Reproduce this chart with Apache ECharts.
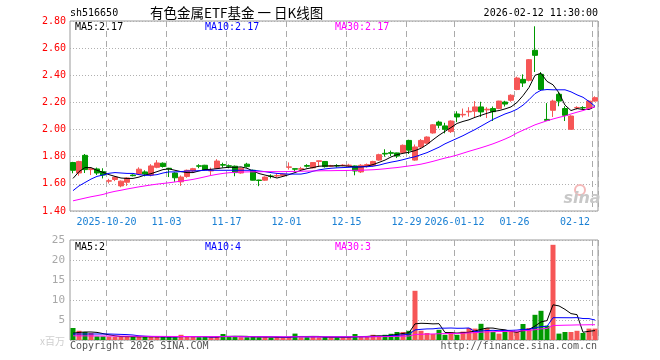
<!DOCTYPE html>
<html>
<head>
<meta charset="utf-8">
<script src="https://cdn.jsdelivr.net/npm/echarts@6/dist/echarts.min.js"></script>
<style>html,body{margin:0;padding:0;background:#fff;}#c{width:660px;height:360px;}</style>
</head>
<body>
<div id="c"></div>
<script>
const dates = [
 '2025-10-10','2025-10-13','2025-10-14','2025-10-15','2025-10-16','2025-10-17','2025-10-20','2025-10-21','2025-10-22','2025-10-23',
 '2025-10-24','2025-10-27','2025-10-28','2025-10-29','2025-10-30','2025-10-31','2025-11-03','2025-11-04','2025-11-05','2025-11-06',
 '2025-11-07','2025-11-10','2025-11-11','2025-11-12','2025-11-13','2025-11-14','2025-11-17','2025-11-18','2025-11-19','2025-11-20',
 '2025-11-21','2025-11-24','2025-11-25','2025-11-26','2025-11-27','2025-11-28','2025-12-01','2025-12-02','2025-12-03','2025-12-04',
 '2025-12-05','2025-12-08','2025-12-09','2025-12-10','2025-12-11','2025-12-12','2025-12-15','2025-12-16','2025-12-17','2025-12-18',
 '2025-12-19','2025-12-22','2025-12-23','2025-12-24','2025-12-25','2025-12-26','2025-12-29','2025-12-30','2025-12-31','2026-01-05',
 '2026-01-06','2026-01-07','2026-01-08','2026-01-09','2026-01-12','2026-01-13','2026-01-14','2026-01-15','2026-01-16','2026-01-19',
 '2026-01-20','2026-01-21','2026-01-22','2026-01-23','2026-01-26','2026-01-27','2026-01-28','2026-01-29','2026-01-30','2026-02-02',
 '2026-02-03','2026-02-04','2026-02-05','2026-02-06','2026-02-09','2026-02-10','2026-02-11','2026-02-12'
];
const opens = [
 1.757,1.68,1.81,1.705,1.71,1.69,1.62,1.632,1.585,1.612,
 1.665,1.672,1.688,1.665,1.722,1.752,1.715,1.68,1.615,1.655,
 1.695,1.733,1.737,1.695,1.715,1.742,1.733,1.73,1.68,1.745,
 1.70,1.628,1.627,1.658,1.658,1.66,1.722,1.712,1.708,1.735,
 1.718,1.765,1.765,1.73,1.735,1.735,1.733,1.732,1.688,1.728,
 1.735,1.775,1.825,1.83,1.828,1.83,1.92,1.775,1.872,1.90,
 1.975,2.055,2.027,1.985,2.115,2.108,2.13,2.135,2.167,2.145,
 2.155,2.155,2.203,2.216,2.295,2.37,2.363,2.584,2.407,2.075,
 2.142,2.26,2.155,2.002,2.16,2.162,2.155,2.21
];
const closes = [
 1.70,1.765,1.705,1.712,1.68,1.665,1.623,1.65,1.62,1.643,
 1.66,1.708,1.672,1.732,1.754,1.728,1.71,1.645,1.65,1.70,
 1.712,1.73,1.703,1.70,1.768,1.738,1.73,1.683,1.715,1.727,
 1.627,1.625,1.65,1.655,1.662,1.672,1.725,1.708,1.712,1.73,
 1.757,1.77,1.727,1.733,1.732,1.738,1.738,1.695,1.737,1.742,
 1.765,1.815,1.82,1.825,1.805,1.884,1.848,1.872,1.92,1.945,
 2.035,2.032,2.002,2.063,2.093,2.112,2.135,2.167,2.13,2.15,
 2.132,2.21,2.188,2.253,2.38,2.343,2.515,2.547,2.295,2.068,
 2.21,2.21,2.105,2.10,2.163,2.16,2.21,2.235
];
const lows = [
 1.678,1.66,1.68,1.665,1.665,1.64,1.603,1.62,1.575,1.585,
 1.655,1.665,1.655,1.655,1.715,1.72,1.65,1.615,1.585,1.645,
 1.685,1.715,1.70,1.665,1.71,1.72,1.715,1.656,1.675,1.72,
 1.625,1.583,1.622,1.64,1.648,1.655,1.705,1.69,1.70,1.72,
 1.715,1.725,1.72,1.725,1.72,1.73,1.725,1.663,1.68,1.72,
 1.728,1.77,1.80,1.805,1.79,1.825,1.82,1.77,1.865,1.895,
 1.97,2.01,1.972,1.975,2.055,2.09,2.095,2.093,2.093,2.085,
 2.063,2.15,2.17,2.205,2.29,2.314,2.355,2.424,2.284,2.065,
 2.093,2.172,2.063,2.0,2.148,2.15,2.15,2.205
];
const highs = [
 1.762,1.77,1.82,1.715,1.72,1.715,1.637,1.655,1.625,1.648,
 1.67,1.722,1.70,1.745,1.775,1.758,1.718,1.685,1.662,1.705,
 1.718,1.745,1.74,1.72,1.782,1.756,1.743,1.735,1.72,1.755,
 1.705,1.63,1.655,1.67,1.675,1.675,1.758,1.712,1.725,1.745,
 1.76,1.772,1.768,1.74,1.745,1.745,1.748,1.735,1.745,1.75,
 1.77,1.822,1.855,1.845,1.83,1.89,1.925,1.89,1.93,1.95,
 2.04,2.065,2.05,2.068,2.135,2.155,2.165,2.21,2.205,2.165,
 2.17,2.212,2.212,2.26,2.39,2.407,2.52,2.761,2.424,2.195,
 2.22,2.277,2.172,2.105,2.172,2.172,2.215,2.245
];
const ma5 = [
 1.64,1.69,1.72,1.72,1.70,1.685,1.668,1.655,1.643,1.64,
 1.64,1.65,1.665,1.675,1.69,1.705,1.71,1.70,1.69,1.683,
 1.683,1.695,1.705,1.707,1.712,1.718,1.722,1.722,1.725,1.715,
 1.695,1.676,1.665,1.655,1.643,1.655,1.668,1.683,1.70,1.712,
 1.72,1.73,1.732,1.732,1.733,1.733,1.73,1.724,1.725,1.73,
 1.742,1.758,1.775,1.798,1.815,1.825,1.833,1.845,1.862,1.89,
 1.925,1.958,1.987,2.015,2.045,2.06,2.072,2.09,2.105,2.12,
 2.133,2.14,2.152,2.167,2.20,2.25,2.31,2.40,2.415,2.355,
 2.33,2.27,2.18,2.14,2.155,2.148,2.148,2.17
];
const ma10 = [
 1.55,1.585,1.61,1.635,1.655,1.665,1.678,1.683,1.68,1.677,
 1.677,1.668,1.663,1.663,1.668,1.68,1.688,1.688,1.69,1.695,
 1.695,1.697,1.70,1.70,1.70,1.70,1.70,1.70,1.70,1.70,
 1.70,1.695,1.69,1.683,1.677,1.674,1.672,1.672,1.672,1.68,
 1.693,1.703,1.71,1.715,1.718,1.72,1.722,1.724,1.725,1.726,
 1.73,1.738,1.75,1.76,1.768,1.778,1.79,1.80,1.815,1.83,
 1.85,1.87,1.895,1.915,1.935,1.955,1.978,2.00,2.025,2.05,
 2.075,2.095,2.115,2.13,2.15,2.18,2.22,2.265,2.29,2.295,
 2.293,2.293,2.293,2.278,2.256,2.238,2.207,2.172
];
const ma30 = [
 1.475,1.485,1.495,1.505,1.513,1.522,1.535,1.545,1.553,1.562,
 1.57,1.578,1.585,1.592,1.598,1.603,1.608,1.614,1.62,1.626,
 1.633,1.642,1.652,1.662,1.67,1.677,1.682,1.685,1.687,1.688,
 1.689,1.689,1.69,1.69,1.69,1.69,1.691,1.692,1.693,1.694,
 1.695,1.696,1.697,1.697,1.698,1.698,1.699,1.70,1.70,1.702,
 1.704,1.707,1.711,1.716,1.72,1.726,1.732,1.738,1.745,1.755,
 1.766,1.778,1.79,1.80,1.812,1.826,1.84,1.853,1.866,1.88,
 1.895,1.912,1.93,1.95,1.975,1.995,2.015,2.035,2.05,2.065,
 2.078,2.09,2.10,2.115,2.128,2.14,2.155,2.168
];
const volumes = [
 3.0,2.3,2.0,1.75,0.9,0.9,0.85,0.8,0.85,0.8,
 0.8,0.8,0.75,0.85,0.8,0.75,0.8,0.7,1.3,0.8,
 0.75,0.7,0.75,0.7,0.8,1.5,0.75,0.9,0.7,0.7,
 0.9,0.7,0.7,0.6,0.7,0.65,0.75,1.6,0.7,0.7,
 0.75,0.7,0.75,0.7,0.65,0.7,0.7,1.5,0.8,0.75,
 1.3,0.9,1.3,1.55,2.0,2.0,2.3,12.3,2.3,1.75,
 1.5,2.55,1.3,2.0,1.3,2.1,3.0,2.85,4.05,3.0,
 2.0,1.6,2.1,2.1,2.0,4.0,3.0,6.3,7.3,3.6,
 23.8,1.6,2.0,2.0,2.3,1.75,2.85,2.85
];
const vma5 = [
 1.7,1.9,2.0,2.0,1.9,1.6,1.3,1.05,0.86,0.85,
 0.82,0.81,0.8,0.8,0.8,0.79,0.79,0.77,0.87,0.87,
 0.86,0.85,0.86,0.74,0.74,0.89,0.9,0.93,0.93,0.91,
 0.79,0.78,0.74,0.72,0.68,0.67,0.68,0.86,0.88,0.88,
 0.9,0.89,0.72,0.72,0.71,0.7,0.7,0.85,0.87,0.89,
 1.01,1.05,1.01,1.16,1.41,1.63,1.83,4.03,4.18,4.13,
 4.03,4.08,1.88,1.82,1.73,1.85,1.94,2.25,2.66,3.0,
 2.98,2.7,2.55,2.16,1.96,2.36,2.64,3.48,4.52,4.84,
 8.8,8.52,7.66,6.6,6.34,1.93,2.18,2.35
];
const vma10 = [
 1.5,1.5,1.5,1.5,1.5,1.5,1.5,1.45,1.4,1.35,
 1.25,1.05,0.95,0.88,0.83,0.82,0.81,0.79,0.84,0.84,
 0.83,0.82,0.83,0.75,0.81,0.88,0.88,0.89,0.84,0.82,
 0.84,0.84,0.83,0.82,0.8,0.73,0.73,0.8,0.8,0.78,
 0.78,0.78,0.79,0.79,0.78,0.78,0.78,0.79,0.8,0.8,
 0.86,0.88,0.93,1.03,1.15,1.28,1.44,2.52,2.67,2.77,
 2.79,2.96,2.96,3.0,2.93,2.94,3.01,2.07,2.24,2.37,
 2.42,2.32,2.4,2.41,2.48,2.67,2.67,3.02,3.34,3.4,
 5.58,5.58,5.57,5.56,5.59,5.37,5.35,5.0
];
const vma30 = [
 1.05,1.04,1.03,1.02,1.01,1.0,0.99,0.98,0.97,0.96,
 0.95,0.94,0.93,0.92,0.91,0.9,0.89,0.88,0.87,0.86,
 0.85,0.85,0.84,0.84,0.83,0.84,0.84,0.83,0.82,0.82,
 0.82,0.81,0.81,0.8,0.8,0.8,0.8,0.8,0.8,0.8,
 0.8,0.8,0.8,0.8,0.8,0.8,0.8,0.81,0.81,0.81,
 0.82,0.83,0.85,0.87,0.91,0.95,1.0,1.39,1.44,1.48,
 1.51,1.57,1.59,1.63,1.65,1.7,1.77,1.84,1.95,2.03,
 2.07,2.1,2.14,2.18,2.22,2.32,2.4,2.58,2.79,2.88,
 3.63,3.66,3.7,3.73,3.77,3.78,3.81,3.82
];
const tickIdx = [6,16,26,36,46,56,64,74,87];
const tickText = ['2025-10-20','11-03','11-17','12-01','12-15','12-29','2026-01-12','01-26','02-12'];
const priceMin = 1.4, priceMax = 2.8, priceStep = 0.2;
const volMin = 0, volMax = 25, volStep = 5;

const UP = '#f65656', DOWN = '#009900';
const mono = '"DejaVu Sans Mono", "Liberation Mono", monospace';
const kData = opens.map((o, i) => [o, closes[i], lows[i], highs[i]]);
const vData = volumes.map((v, i) => ({ value: v, itemStyle: { color: closes[i] >= opens[i] ? UP : DOWN } }));
const isTick = (i) => tickIdx.indexOf(i) >= 0;

const vSplit = { show: true, interval: (i) => isTick(i), lineStyle: { color: '#aaaaaa', type: [6, 4], width: 1 } };
const hSplit = { show: true, lineStyle: { color: '#b0b0b0', type: [1, 2], width: 1 } };

const chart = echarts.init(document.getElementById('c'), null, { renderer: 'canvas' });
const lineS = (name, data, color, xi, yi) => ({
  name, type: 'line', data, xAxisIndex: xi, yAxisIndex: yi, symbol: 'none', silent: true,
  lineStyle: { color, width: 1 }, itemStyle: { color }, z: 5
});
const txt = (x, y, text, fill, font, align) => ({
  type: 'text', left: undefined, x, y,
  style: { text, fill, font, textAlign: align || 'left', textVerticalAlign: 'middle' }, z: 100
});
chart.setOption({
  animation: false,
  backgroundColor: '#ffffff',
  grid: [
    { left: 70, right: 62, top: 21, height: 190, show: true, borderColor: '#9a9a9a', borderWidth: 1 },
    { left: 70, right: 62, top: 240, height: 100, show: true, borderColor: '#9a9a9a', borderWidth: 1 }
  ],
  xAxis: [
    { type: 'category', gridIndex: 0, data: dates, boundaryGap: true,
      axisLine: { show: false }, axisTick: { show: false },
      axisLabel: { interval: (i) => isTick(i), formatter: (v, i) => tickText[tickIdx.indexOf(i)] || '',
        color: '#1a80d4', fontFamily: mono, fontSize: 10, margin: 6, padding: [0, 5, 0, 0], alignMaxLabel: 'right' },
      splitLine: vSplit },
    { type: 'category', gridIndex: 1, data: dates, boundaryGap: true,
      axisLine: { show: false }, axisTick: { show: false }, axisLabel: { show: false },
      splitLine: vSplit }
  ],
  yAxis: [
    { type: 'value', gridIndex: 0, min: priceMin, max: priceMax, interval: priceStep, scale: true,
      axisLine: { show: false }, axisTick: { show: false },
      axisLabel: { formatter: (v) => v.toFixed(2), color: '#ff0000', fontFamily: mono, fontSize: 10, margin: 4 },
      splitLine: hSplit },
    { type: 'value', gridIndex: 1, min: volMin, max: volMax, interval: volStep,
      axisLine: { show: false }, axisTick: { show: false },
      axisLabel: { formatter: (v) => v === 0 ? '' : String(v), color: '#a8a8a8', fontFamily: mono, fontSize: 11, margin: 5 },
      splitLine: hSplit }
  ],
  series: [
    { name: 'K', type: 'candlestick', data: kData, xAxisIndex: 0, yAxisIndex: 0, barWidth: 5, silent: true,
      itemStyle: { color: UP, color0: DOWN, borderColor: UP, borderColor0: DOWN, borderWidth: 1 } },
    lineS('MA5', ma5, '#000000', 0, 0),
    lineS('MA10', ma10, '#0000ff', 0, 0),
    lineS('MA30', ma30, '#ff00ff', 0, 0),
    { name: 'VOL', type: 'bar', data: vData, xAxisIndex: 1, yAxisIndex: 1, barWidth: 5, silent: true },
    lineS('VMA5', vma5, '#000000', 1, 1),
    lineS('VMA10', vma10, '#0000ff', 1, 1),
    lineS('VMA30', vma30, '#ff00ff', 1, 1)
  ],
  graphic: [
    txt(70, 13, 'sh516650', '#000', '10px ' + mono),
    txt(150, 13, '有色金属ETF基金 一 日K线图', '#000', '13.5px "Noto Sans CJK SC"'),
    txt(598, 13, '2026-02-12 11:30:00', '#000', '10px ' + mono, 'right'),
    txt(75, 27, 'MA5:2.17', '#000', '10px ' + mono),
    txt(205, 27, 'MA10:2.17', '#0000ff', '10px ' + mono),
    txt(335, 27, 'MA30:2.17', '#ff00ff', '10px ' + mono),
    txt(75, 247, 'MA5:2', '#000', '10px ' + mono),
    txt(205, 247, 'MA10:4', '#0000ff', '10px ' + mono),
    txt(335, 247, 'MA30:3', '#ff00ff', '10px ' + mono),
    txt(65, 341, 'x百万', '#cfcfcf', '10px "Noto Sans CJK SC"', 'right'),
    txt(70, 346, 'Copyright 2026 SINA.COM', '#555', '10px ' + mono),
    txt(597, 346, 'http://finance.sina.com.cn', '#555', '10px ' + mono, 'right'),
    { type: 'circle', shape: { cx: 580, cy: 190, r: 5 }, style: { fill: 'none', stroke: '#f4b8b8', lineWidth: 2 }, z: 1 },
    txt(582, 199, 'sina', '#c8c8c8', 'italic bold 16px "DejaVu Sans"', 'center')
  ]
});
</script>
</body>
</html>
